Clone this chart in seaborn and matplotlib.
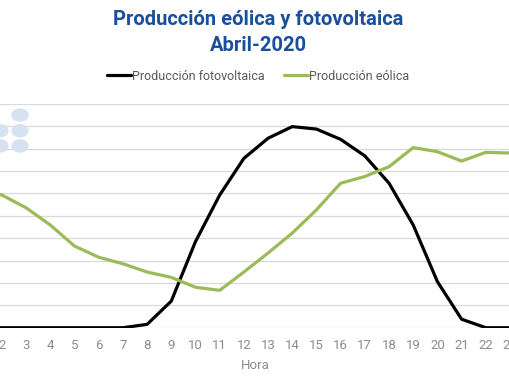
import pandas as pd
import matplotlib
matplotlib.use('Agg')
import matplotlib.pyplot as plt
from matplotlib.patches import Ellipse
import seaborn as sns

horas = list(range(1, 24))
fotovoltaica = [0, 0, 0, 0, 0, 0, 0, 0.15, 1.19, 3.85, 5.93, 7.57, 8.47, 8.99, 8.88,
                8.42, 7.68, 6.46, 4.59, 2.06, 0.38, 0, 0]
eolica = [6.3, 5.93, 5.36, 4.59, 3.65, 3.15, 2.86, 2.49, 2.25, 1.81, 1.67, 2.49, 3.34,
          4.23, 5.27, 6.46, 6.76, 7.2, 8.05, 7.87, 7.45, 7.84, 7.81]
series = ['Producción fotovoltaica', 'Producción eólica']
colores = ['#000000', '#9BBB59']

df = pd.DataFrame({
    'Hora': horas * 2,
    'valor': fotovoltaica + eolica,
    'serie': [series[0]] * len(horas) + [series[1]] * len(horas),
})

sns.set_style('white')
plt.rcParams['font.family'] = ['Roboto', 'DejaVu Sans']

fig = plt.figure(figsize=(5.1, 3.82), dpi=100)
ax = fig.add_axes([0.0, 0.1421, 1.0, 0.5856])

ax.yaxis.grid(True, color='#d9d9d9', linewidth=0.9)
ax.set_axisbelow(True)
sns.lineplot(data=df, x='Hora', y='valor', hue='serie', palette=colores,
             linewidth=2.3, ax=ax, legend=False)

ax.set_xticks(range(2, 24))
ax.set_yticks(range(0, 11))
ax.set_yticklabels([])
ax.set_xlim(1.92, 23.0)
ax.set_ylim(0, 10)
ax.tick_params(axis='x', length=0, pad=8, labelsize=9.5, labelcolor='#8c8c8c')
ax.tick_params(axis='y', length=0)
ax.set_ylabel('')
ax.set_xlabel('Hora', fontsize=9.5, color='#8c8c8c', labelpad=5)
sns.despine(ax=ax, left=True, bottom=True)

# leyenda
handles = [plt.Line2D([], [], color=c, linewidth=2.3) for c in colores]
fig.legend(handles, series, loc='center', bbox_to_anchor=(0.506, 0.801), ncol=2,
           frameon=False, handlelength=1.9, handletextpad=0.05, columnspacing=1.6,
           fontsize=9, labelcolor='#595959')

fig.text(0.506, 0.948, 'Producción eólica y fotovoltaica', ha='center', va='center',
         fontsize=14.5, fontweight='bold', color='#1a4f9c')
fig.text(0.506, 0.880, 'Abril-2020', ha='center', va='center',
         fontsize=14.5, fontweight='bold', color='#1a4f9c')

# logo de puntos (recortado)
for cx, cy in [(20, 115), (20, 130.7), (20, 146), (0, 130.7), (0, 146)]:
    fig.add_artist(Ellipse((cx / 510, 1 - cy / 382), 16 / 510, 12 / 382,
                           transform=fig.transFigure, color='#d6e2f1', zorder=5))

fig.savefig('out.png', dpi=100)
